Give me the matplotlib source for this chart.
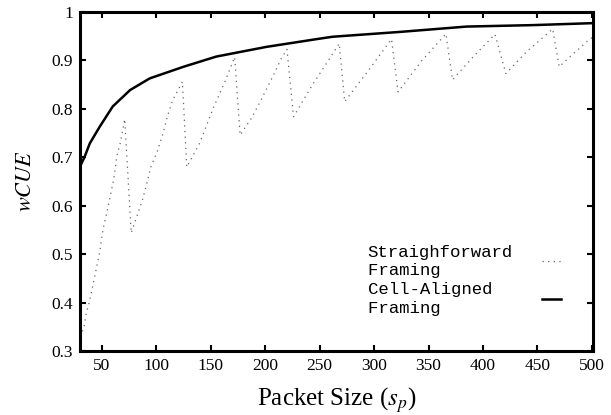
"""wCUE vs packet size: straightforward vs cell-aligned framing."""
import matplotlib

matplotlib.use("Agg")
import matplotlib.pyplot as plt

# values
sf_x = [30, 33.5, 35.6, 38.7, 43.3, 47.9, 51, 56, 61, 64, 67, 71,
        77, 82, 87, 91, 95, 101, 106, 110, 115, 124,
        128, 140, 152, 163, 172,
        177, 188, 197, 207, 215, 220,
        226, 235, 244, 254, 268,
        273, 295, 316,
        322, 344, 366,
        372, 392, 411,
        421, 440, 464,
        470, 480, 497, 500]
sf_y = [0.33, 0.348, 0.377, 0.403, 0.452, 0.503, 0.55, 0.60, 0.656, 0.705, 0.73, 0.779,
        0.544, 0.577, 0.61, 0.643, 0.68, 0.713, 0.748, 0.783, 0.818, 0.856,
        0.68, 0.73, 0.80, 0.856, 0.907,
        0.746, 0.783, 0.822, 0.867, 0.905, 0.923,
        0.784, 0.818, 0.852, 0.886, 0.935,
        0.815, 0.88, 0.944,
        0.835, 0.90, 0.955,
        0.86, 0.91, 0.954,
        0.873, 0.918, 0.965,
        0.887, 0.908, 0.942, 0.947]

ca_x = [30, 34, 39, 48, 60, 76, 94, 125, 155, 201, 247, 262, 324, 385, 446, 500]
ca_y = [0.681, 0.70, 0.729, 0.763, 0.805, 0.839, 0.863, 0.887, 0.908, 0.928,
        0.944, 0.949, 0.959, 0.970, 0.973, 0.977]

x_ticks = [50, 100, 150, 200, 250, 300, 350, 400, 450, 500]
y_ticks = [0.3, 0.4, 0.5, 0.6, 0.7, 0.8, 0.9, 1.0]
y_tick_labels = ["0.3", "0.4", "0.5", "0.6", "0.7", "0.8", "0.9", "1"]

# monospace labels padded to the same width so they line up on the left
legend_labels = ["Straighforward\nFraming       ", "Cell-Aligned  \nFraming       "]

SERIF = "Liberation Serif"
MONO = "Liberation Mono"
plt.rcParams["mathtext.fontset"] = "stix"

fig = plt.figure(figsize=(6.11, 4.15), dpi=100)
ax = fig.add_axes([0.131, 0.154, 0.8395, 0.817])

ax.plot(sf_x, sf_y, color="0.4", lw=0.9, linestyle=(0, (1, 3.5)),
        label=legend_labels[0])
ax.plot(ca_x, ca_y, color="black", lw=1.8, label=legend_labels[1])

ax.set_xlim(30, 501)
ax.set_ylim(0.3, 1.0)
ax.set_xticks(x_ticks)
ax.set_yticks(y_ticks)
ax.set_yticklabels(y_tick_labels)
ax.tick_params(direction="in", length=4, width=1.5, top=True, right=True,
               labelsize=12.5, pad=5)
for lab in ax.get_xticklabels() + ax.get_yticklabels():
    lab.set_family(SERIF)
for sp in ax.spines.values():
    sp.set_linewidth(2.2)

ax.set_xlabel("Packet Size ($s_p$)", fontsize=18, family=SERIF, labelpad=8)
ax.set_ylabel("$wCUE$", fontsize=16, family=SERIF, labelpad=11)

leg = ax.legend(loc="upper left", bbox_to_anchor=(0.53, 0.36), frameon=False,
                markerfirst=False, handlelength=1.1, handletextpad=1.7,
                labelspacing=0.22, prop={"family": MONO, "size": 12.5})
for t in leg.get_texts():
    t.set_linespacing(1.3)

fig.savefig("out.png", dpi=100)
